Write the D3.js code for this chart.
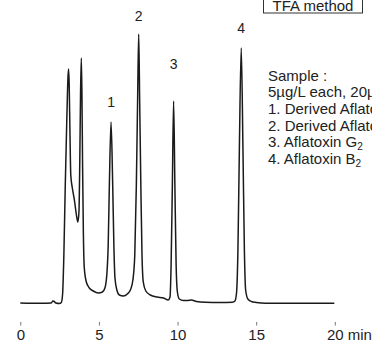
<!DOCTYPE html>
<html>
<head>
<meta charset="utf-8">
<script src="https://cdn.jsdelivr.net/npm/d3@7"></script>
<style>
  html, body { margin: 0; padding: 0; background: #fff; }
  svg { display: block; font-family: "Liberation Sans", Arial, Helvetica, sans-serif; }
</style>
</head>
<body>
<svg id="chart" width="372" height="343"></svg>
<script>
// Retention time (min) and detector signal (arbitrary units)
const times = [0, 1.27, 1.97, 2.07, 2.16, 2.26, 2.48, 2.61, 2.69, 2.77, 2.86, 2.96, 3.03, 3.07, 3.11, 3.16, 3.21, 3.31, 3.44, 3.56, 3.66,
  3.73, 3.78, 3.83, 3.88, 3.92, 3.96, 4.01, 4.07, 4.20, 4.39, 4.64, 4.96, 5.22, 5.38, 5.50, 5.59, 5.67, 5.77, 5.87, 5.95,
  6.02, 6.14, 6.30, 6.55, 6.81, 7.00, 7.16, 7.28, 7.38, 7.46, 7.53, 7.59, 7.67, 7.74, 7.82, 7.98, 8.27, 8.71, 9.10, 9.41,
  9.52, 9.59, 9.67, 9.75, 9.83, 9.91, 9.99, 10.11, 10.37, 10.62, 10.88, 11.20, 11.77, 12.72, 13.49, 13.65, 13.75, 13.84,
  13.93, 14.05, 14.16, 14.25, 14.33, 14.47, 14.69, 15.01, 15.59, 19.97];
const signal = [0, -0.3, 0, 2, 1.5, 0, -0.5, 0.5, 9, 48, 118, 185, 225, 234, 218, 168, 128, 115, 103, 89, 81,
  91, 138, 208, 245, 208, 138, 71, 35, 21, 15, 12, 10, 11, 15, 28, 58, 123, 181, 123, 58,
  25, 13, 8, 7, 9, 13, 23, 48, 118, 203, 269, 203, 113, 48, 21, 12, 8, 6, 5, 3,
  6, 38, 118, 202, 118, 38, 11, 4, 2.5, 2.5, 3, 1.5, 0.7, 0.5, 0.7, 2, 10, 53,
  153, 255, 153, 53, 13, 4, 1.5, 0.5, -0.3, -0.3];

// Peak labels
const peakNames = ["1", "2", "3", "4"];
const peakTimes = [5.77, 7.53, 9.75, 14.05];
const peakLabelSignal = [196, 282, 234, 270];

// Axis ticks
const tickValues = [0, 5, 10, 15, 20];
const axisUnit = "min";

// Annotations
const methodLabel = "TFA method";
const sampleLines = [
  [{t: "Sample :"}],
  [{t: "5µg/L each, 20µL"}],
  [{t: "1. Derived Aflatoxin G"}, {t: "1", sub: true}],
  [{t: "2. Derived Aflatoxin B"}, {t: "1", sub: true}],
  [{t: "3. Aflatoxin G"}, {t: "2", sub: true}],
  [{t: "4. Aflatoxin B"}, {t: "2", sub: true}]
];

const svg = d3.select("#chart");
const x = d3.scaleLinear().domain([0, 20]).range([20.3, 334.8]);
const y = d3.scaleLinear().domain([0, 270]).range([303, 33]);

const pts = times.map((t, i) => [t, signal[i]]);
const line = d3.line().x(d => x(d[0])).y(d => y(d[1])).curve(d3.curveMonotoneX);

svg.append("path")
  .attr("d", line(pts))
  .attr("fill", "none")
  .attr("stroke", "#1a1a1a")
  .attr("stroke-width", 1.5)
  .attr("stroke-linejoin", "round");

// Peak labels
svg.selectAll("text.peak").data(peakNames).enter().append("text")
  .attr("class", "peak")
  .attr("x", (d, i) => x(peakTimes[i]))
  .attr("y", (d, i) => y(peakLabelSignal[i]))
  .attr("text-anchor", "middle")
  .attr("font-size", 14)
  .attr("fill", "#222")
  .text(d => d);

// X axis
const axis = d3.axisBottom(x).tickValues(tickValues).tickSize(3.5).tickPadding(3.8).tickFormat(d3.format("d"));
const gx = svg.append("g").attr("transform", "translate(0,322)").call(axis);
gx.select(".domain").remove();
gx.selectAll(".tick line").attr("stroke", "#777");
gx.selectAll(".tick text").attr("font-size", 15).attr("fill", "#222").attr("font-family", "Liberation Sans, Arial, sans-serif");
svg.append("text").attr("x", x(20) + 13).attr("y", 340).attr("font-size", 15).attr("fill", "#222").text(axisUnit);

// Method box
svg.append("rect").attr("x", 263.5).attr("y", -6).attr("width", 99).attr("height", 19)
  .attr("fill", "none").attr("stroke", "#333").attr("stroke-width", 1);
svg.append("text").attr("x", 313).attr("y", 10.5).attr("text-anchor", "middle")
  .attr("font-size", 15).attr("fill", "#222").text(methodLabel);

// Sample legend
const leg = svg.append("g");
sampleLines.forEach((parts, i) => {
  const tx = leg.append("text").attr("x", 268).attr("y", 80.7 + i * 16.6)
    .attr("font-size", 15).attr("fill", "#222");
  parts.forEach(p => {
    const ts = tx.append("tspan").text(p.t);
    if (p.sub) ts.attr("font-size", 10).attr("dy", 3);
  });
});
</script>
</body>
</html>
